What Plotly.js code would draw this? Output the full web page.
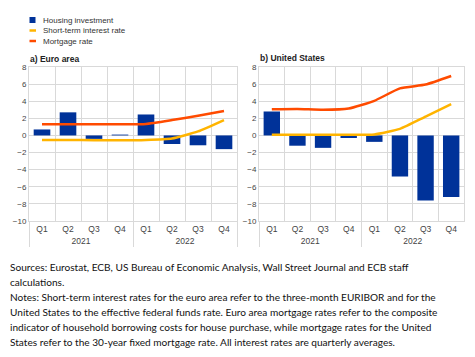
<!DOCTYPE html>
<html><head><meta charset="utf-8">
<script src="https://cdn.plot.ly/plotly-3.0.1.min.js"></script>
<style>html,body{margin:0;padding:0;background:#fff}#chart{width:475px;height:357px}</style>
</head><body><div id="chart"></div>
<script>
// ---- data ----
const years = ["2021","2021","2021","2021","2022","2022","2022","2022"];
const quarters = ["Q1","Q2","Q3","Q4","Q1","Q2","Q3","Q4"];
const euHousing   = [0.7, 2.7, -0.4, 0.1, 2.45, -1.0, -1.15, -1.6];
const euShortRate = [-0.54, -0.54, -0.55, -0.57, -0.53, -0.36, 0.47, 1.8];
const euMortgage  = [1.32, 1.3, 1.3, 1.3, 1.35, 1.8, 2.3, 2.85];
const usHousing   = [2.8, -1.2, -1.45, -0.3, -0.75, -4.8, -7.6, -7.2];
const usShortRate = [0.08, 0.07, 0.09, 0.08, 0.12, 0.77, 2.2, 3.65];
const usMortgage  = [3.05, 3.1, 3.0, 3.15, 4.05, 5.5, 5.95, 6.95];
const seriesNames = ["Housing investment", "Short-term interest rate", "Mortgage rate"];
const panelTitles = ["a) Euro area", "b) United States"];
const sourceLines = [
  "Sources: Eurostat, ECB, US Bureau of Economic Analysis, Wall Street Journal and ECB staff",
  "calculations.",
  "Notes: Short-term interest rates for the euro area refer to the three-month EURIBOR and for the",
  "United States to the effective federal funds rate. Euro area mortgage rates refer to the composite",
  "indicator of household borrowing costs for house purchase, while mortgage rates for the United",
  "States refer to the 30-year fixed mortgage rate. All interest rates are quarterly averages."
];

// ---- styling ----
const W = 475, H = 357;
const px = x => x / W, py = y => 1 - y / H;
const BLUE = "#003299", YELLOW = "#FFB400", ORANGE = "#FF4B00";
const GRID = "#d9d9d9", TICK = "#444";
const FONT = "Liberation Sans, Arial, sans-serif";
const xcat = [years, quarters];

function panel(h, s, m, xa, ya) {
  return [
    {type: "bar", x: xcat, y: h, name: seriesNames[0], marker: {color: BLUE}, xaxis: xa, yaxis: ya, showlegend: false},
    {type: "scatter", mode: "lines", x: xcat, y: s, name: seriesNames[1], line: {color: YELLOW, width: 2.5, shape: "spline", smoothing: 0.5}, xaxis: xa, yaxis: ya, showlegend: false},
    {type: "scatter", mode: "lines", x: xcat, y: m, name: seriesNames[2], line: {color: ORANGE, width: 2.5, shape: "spline", smoothing: 0.5}, xaxis: xa, yaxis: ya, showlegend: false}
  ];
}
const data = [].concat(
  panel(euHousing, euShortRate, euMortgage, "x", "y"),
  panel(usHousing, usShortRate, usMortgage, "x2", "y2")
);

function xaxis(d, anchor) {
  return {domain: d, anchor: anchor, type: "multicategory", tickson: "boundaries",
    showgrid: true, gridcolor: GRID, gridwidth: 1, showline: true, linecolor: GRID, mirror: true,
    ticks: "", showdividers: true, dividercolor: GRID, dividerwidth: 1,
    tickfont: {family: FONT, size: 8.5, color: TICK}};
}
function yaxis(anchor) {
  return {domain: [py(221), py(67)], anchor: anchor, range: [-10, 8], dtick: 2, tick0: 0,
    showgrid: true, gridcolor: GRID, gridwidth: 1, zeroline: false, showline: true, linecolor: GRID, mirror: true,
    ticks: "", ticklen: 0, tickfont: {family: FONT, size: 8, color: TICK}};
}

const annotations = [];
const shapes = [];
// legend (manual)
const legY = [20, 30.5, 41];
shapes.push({type: "rect", xref: "paper", yref: "paper", x0: px(29.5), x1: px(35.5), y0: py(23), y1: py(17), fillcolor: BLUE, line: {width: 0}});
shapes.push({type: "line", xref: "paper", yref: "paper", x0: px(29.5), x1: px(36), y0: py(legY[1]), y1: py(legY[1]), line: {color: YELLOW, width: 2.5}});
shapes.push({type: "line", xref: "paper", yref: "paper", x0: px(29.5), x1: px(36), y0: py(legY[2]), y1: py(legY[2]), line: {color: ORANGE, width: 2.5}});
seriesNames.forEach((n, i) => annotations.push({xref: "paper", yref: "paper", x: px(41), y: py(legY[i]), xanchor: "left", yanchor: "middle",
  text: n, showarrow: false, font: {family: FONT, size: 8, color: "#333"}}));
// panel titles
[[28, 59], [258, 58.5]].forEach((p, i) => annotations.push({xref: "paper", yref: "paper", x: px(p[0]), y: py(p[1]), xanchor: "left", yanchor: "middle",
  text: "<b>" + panelTitles[i] + "</b>", showarrow: false, font: {family: FONT, size: 8.5, color: "#222"}}));
// footnotes
sourceLines.forEach((t, i) => annotations.push({xref: "paper", yref: "paper", x: px(8), y: py(267 + i * 14.9), xanchor: "left", yanchor: "middle",
  text: t, showarrow: false, font: {family: "Lato, Carlito, sans-serif", size: 10.1, color: "#111"}}));

const layout = {
  width: W, height: H, margin: {l: 0, r: 0, t: 0, b: 0},
  paper_bgcolor: "#fff", plot_bgcolor: "#fff", showlegend: false,
  bargap: 0.36,
  xaxis: xaxis([px(29), px(237)], "y"),
  yaxis: yaxis("x"),
  xaxis2: xaxis([px(259), px(464)], "y2"),
  yaxis2: yaxis("x2"),
  annotations: annotations, shapes: shapes
};
Plotly.newPlot("chart", data, layout, {displayModeBar: false, staticPlot: true});
</script></body></html>
